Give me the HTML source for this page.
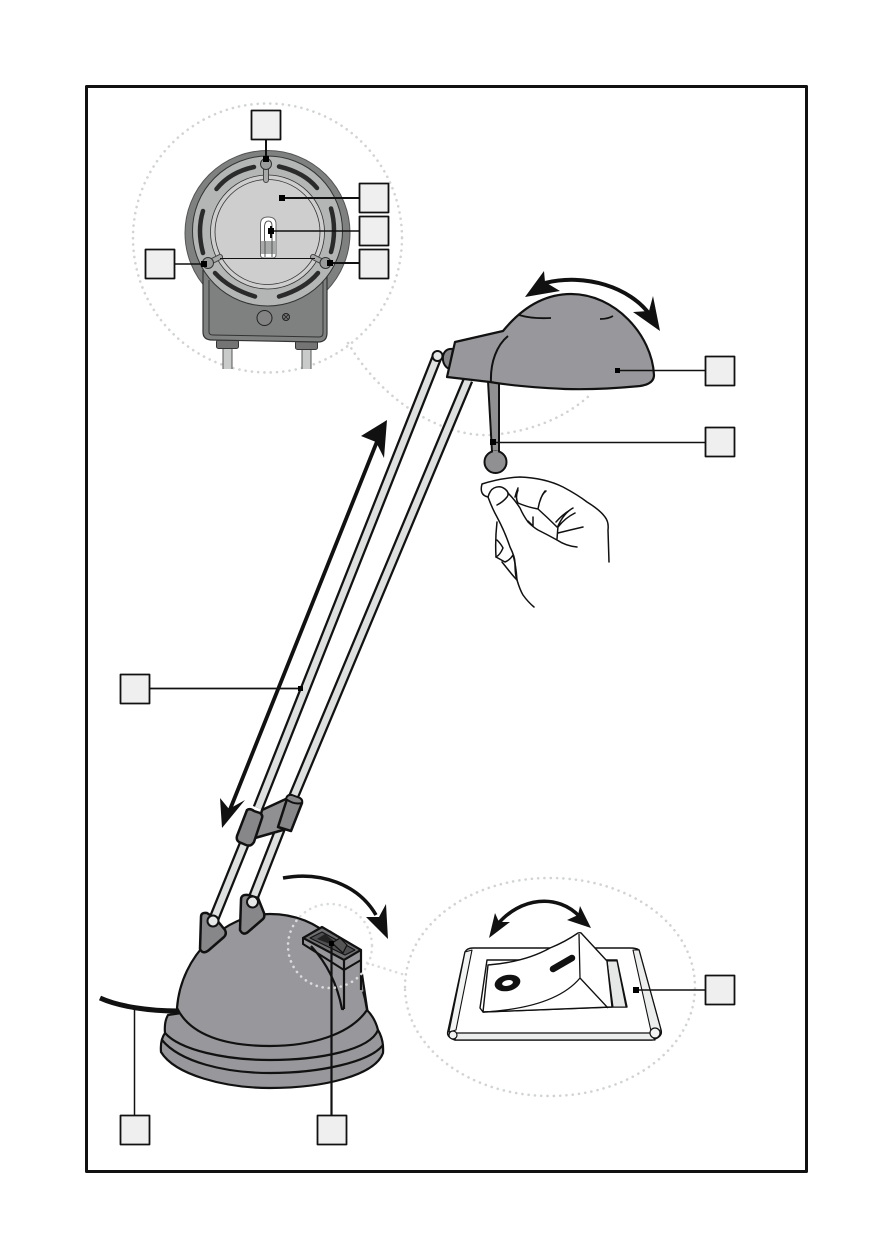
<!DOCTYPE html>
<html><head><meta charset="utf-8"><style>html,body{margin:0;padding:0;background:#fff}svg{display:block}</style></head>
<body>
<svg width="893" height="1259" viewBox="0 0 893 1259" xmlns="http://www.w3.org/2000/svg" fill="none" stroke-linejoin="round">
<rect x="86.500" y="86.500" width="720" height="1085" stroke="#111" stroke-width="3"/>

<!-- dotted magnifier circles -->
<g stroke="#d2d4d4" stroke-width="2.600" stroke-linecap="round" stroke-dasharray="0.1 6.200">
<circle cx="267.500" cy="238" r="134.500"/>
<path d="M348 343C385 405 445 437 490 435C530 432 565 418 590 395"/>
<path d="M405 987C405 925 470 878 550 878C630 878 695 925 695 987C695 1048 630 1096 550 1096C470 1096 405 1048 405 987Z"/>
</g>

<!-- HEAD DETAIL -->
<rect x="222.500" y="345" width="10" height="24" fill="#c9cbca"/>
<rect x="301.500" y="345" width="10" height="24" fill="#c9cbca"/>
<path d="M223 346V369M232 346V369M302 346V369M311 346V369" stroke="#555" stroke-width="1"/>
<rect x="216.500" y="340" width="22" height="8.500" rx="2" fill="#747475" stroke="#333" stroke-width="1"/>
<rect x="295.500" y="341" width="22" height="8.500" rx="2" fill="#747475" stroke="#333" stroke-width="1"/>
<circle cx="267.500" cy="233" r="82.500" fill="#7f8080" stroke="#555" stroke-width="1"/>
<path d="M203 270V332Q203 340 212 340L318 342Q327 342 327 333V270" fill="#7f8080" stroke="#333" stroke-width="1.200"/>
<path d="M209 280V332Q209 335 213 335L319 337Q323 337 323 333V280" stroke="#333" stroke-width="1"/>
<circle cx="264.500" cy="318" r="7.500" fill="#838383" stroke="#222" stroke-width="1"/>
<circle cx="286" cy="317" r="3.500" fill="#777" stroke="#222" stroke-width="1"/>
<path d="M283.500 314.500L288.500 319.500M288.500 314.500L283.500 319.500" stroke="#222" stroke-width="0.800"/>
<circle cx="267.500" cy="231" r="75" fill="#b4b6b6" stroke="#333" stroke-width="1"/>
<circle cx="267.500" cy="232" r="57" fill="#cdcecd" stroke="#333" stroke-width="0.800"/>
<circle cx="267.500" cy="232" r="52.500" fill="#cdcecd" stroke="#333" stroke-width="0.800"/>
<g stroke="#2b2b2b" stroke-width="4.500" stroke-linecap="round">
<path d="M216.500 189C226 177 240 170 254 167"/>
<path d="M279 166.500C294 170 308 177 317 188"/>
<path d="M331 208.500C335 222 335 238 331 252"/>
<path d="M318 273C308 285 294 292 279 296.500"/>
<path d="M255 296.500C240 292 226 285 215 273"/>
<path d="M203 253C199 238 199 224 203 211"/>
</g>
<!-- clips -->
<g stroke-linecap="round">
<path d="M266 167L266 180M208 263L220 257M325 263L313 257" stroke="#444" stroke-width="6"/>
<path d="M266 167L266 180M208 263L220 257M325 263L313 257" stroke="#a6a8a8" stroke-width="4"/>
</g>
<g fill="#9b9d9d" stroke="#333" stroke-width="1">
<circle cx="266" cy="164" r="5.500"/><circle cx="208" cy="263" r="5.500"/><circle cx="325.500" cy="263" r="5.500"/>
</g>
<!-- bulb -->
<path d="M260.500 255V224Q260.500 217 268 217Q276 217 276 224V255Q276 258 272 258H264Q260.500 258 260.500 255Z" fill="#fff" stroke="#666" stroke-width="1"/>
<rect x="261" y="241" width="15" height="13" fill="#a9aaaa"/>
<path d="M264.500 241V226Q265 221 268.500 221Q272 221 272 226V241M265 241V257M272 241V257" stroke="#555" stroke-width="1"/>
<path d="M271 226V238" stroke="#111" stroke-width="2"/>

<!-- ARMS -->
<g stroke-linecap="butt">
<path d="M437 357L258 808" stroke="#111" stroke-width="11"/><path d="M437 357L258 808" stroke="#dde0df" stroke-width="6.500"/>
<path d="M468 380L293 798" stroke="#111" stroke-width="11"/><path d="M468 380L293 798" stroke="#dde0df" stroke-width="6.500"/>
<path d="M245 842L213 921" stroke="#111" stroke-width="11"/><path d="M245 842L213 921" stroke="#dde0df" stroke-width="6.500"/>
<path d="M281 827L252 901" stroke="#111" stroke-width="11"/><path d="M281 827L252 901" stroke="#dde0df" stroke-width="6.500"/>
</g>
<!-- collars -->
<path d="M262 810L288 798L283 830L255 838Z" fill="#909093" stroke="#111" stroke-width="2.500"/>
<path d="M247 810Q250 808 254 811L260 813Q263 815 262 818L254 842Q251 847 246 845L239 842Q236 840 237 836Z" fill="#87878a" stroke="#111" stroke-width="2.500"/>
<path d="M287 799L302 803L291 831L278 827Z" fill="#87878a" stroke="#111" stroke-width="2.500"/>
<path d="M286 799Q287 794 292 795L300 798Q303 800 302 803Q294 805 286 799Z" fill="#87878a" stroke="#111" stroke-width="2"/>

<!-- long arrow -->
<path d="M380 434L229 812" stroke="#111" stroke-width="3.800"/>
<path d="M387 420L384 458L376 442L361 436Z" fill="#111"/>
<path d="M222 828L220 798L229 809L245 800Z" fill="#111"/>

<!-- SHADE -->
<circle cx="437.500" cy="356" r="5" fill="#e6e8e7" stroke="#111" stroke-width="2"/>
<path d="M453 349Q445 348 443 356Q442 365 449 369Z" fill="#87878a" stroke="#111" stroke-width="2"/>
<path d="M488 381L492 452H499L499 382Z" fill="#909093" stroke="#111" stroke-width="2"/>
<circle cx="495.500" cy="462" r="11" fill="#909093" stroke="#111" stroke-width="2"/>
<path d="M493 452H498" stroke="#909093" stroke-width="3"/>
<path d="M447 377L455 342L503 331C525 304 548 294 571 294C615 294 652 335 654 375Q654 384 640 386Q600 390 565 389Q520 387 490 382Z" fill="#98989c" stroke="#111" stroke-width="2.200"/>
<path d="M508 336C497 345 490 362 491 383" stroke="#111" stroke-width="2"/>
<path d="M519 315Q532 319 551 318M600 319Q608 319 613 316" stroke="#111" stroke-width="1.800"/>
<!-- shade arrow -->
<path d="M545 283C585 273 630 287 650 315" stroke="#111" stroke-width="4"/>
<path d="M525 297L544 271L545 282L560 291Z" fill="#111"/>
<path d="M660 331L653 296L649 311L633 312Z" fill="#111"/>

<!-- HAND -->
<g stroke="#111" stroke-width="1.500" stroke-linecap="round">
<path d="M482 484Q479 495 488 497M482 484Q500 478 520 477Q545 478 563 487Q578 495 587 502Q600 510 605 517Q609 522 608 530L609 562"/>
<path d="M488 497Q490 490 494 488Q500 485 505 489Q510 493 507 497Q503 502 497 505"/>
<path d="M488 497Q492 508 497 517Q505 532 510 547Q515 557 515 563Q515 575 517 580Q520 590 523 595Q528 602 534 607"/>
<path d="M497 522Q495 540 496 557L505 562Q510 560 513 555Q516 565 517 580"/>
<path d="M497 540Q501 544 503 548Q500 555 496 557M502 562L510 572Q514 577 517 580"/>
<path d="M508 493Q515 500 520 508Q523 515 528 522Q533 527 538 530Q548 535 557 540Q566 546 577 547"/>
<path d="M518 503Q527 507 538 509Q548 518 557 527M538 509Q540 497 545 491M540 501Q542 494 546 491M518 488Q516 493 515 497M518 503Q515 498 518 490"/>
<path d="M533 517L533 526L528 521"/>
<path d="M557 539L558 526Q564 513 573 508M558 527Q565 518 575 513M558 533Q570 530 583 527M556 522Q562 515 570 510"/>
</g>

<!-- BASE -->
<path d="M100 998C120 1007 150 1011 178 1011" stroke="#111" stroke-width="5"/>
<path d="M168 1015Q164 1022 165 1033Q160 1040 161 1052C175 1075 225 1088 270 1088C325 1088 375 1075 383 1053Q384 1040 378 1030Q375 1018 367 1010L270 1000Z" fill="#98989c" stroke="#111" stroke-width="2.200"/>
<path d="M165 1033C180 1050 225 1060 270 1060C320 1060 370 1050 378 1030" stroke="#111" stroke-width="2.200"/>
<path d="M162 1040C180 1062 225 1073 270 1073C320 1073 370 1062 383 1045" stroke="#111" stroke-width="2.200"/>
<path d="M177 1008C181 955 225 914 270 914C320 914 358 950 367 1010C350 1035 310 1046 270 1046C225 1046 190 1035 177 1008Z" fill="#98989c" stroke="#111" stroke-width="2.200"/>
<path d="M330 930L372 960L365 990L345 1005Z" fill="#98989c" stroke="none"/>
<path d="M361.500 950H374V1000H367L362 973Z" fill="#fff"/>

<!-- pivot mounts -->
<path d="M201 917Q201 912 207 913L216 919L225 930Q227 934 224 937L209 950Q203 955 200 949Z" fill="#87878a" stroke="#111" stroke-width="2.500"/>
<path d="M241 900Q241 894 248 895L258 898L264 913Q265 917 263 919L248 932Q243 936 240 930Z" fill="#87878a" stroke="#111" stroke-width="2.500"/>
<circle cx="213" cy="921" r="5.500" fill="#e6e8e7" stroke="#111" stroke-width="2"/>
<circle cx="252.500" cy="902" r="5.500" fill="#e6e8e7" stroke="#111" stroke-width="2"/>

<!-- switch on base -->
<path d="M303 938L322 927L361 950L344 960Z" fill="#707073" stroke="#111" stroke-width="2.200"/>
<path d="M303 938V944L344 970L361 960V950L344 960Z" fill="#98989c" stroke="#111" stroke-width="2"/>
<path d="M310 938L322 932L355 950L345 955Z" fill="#4f4f52" stroke="#111" stroke-width="1"/>
<path d="M317 939L325 934L335 942L330 944Z" fill="#222"/>
<path d="M332 943L340 938L347 945L343 953Z" fill="#555" stroke="#111" stroke-width="1.200"/>
<path d="M344 960V1009" stroke="#111" stroke-width="2.200"/>
<path d="M311 946Q335 972 342 1009L344 1009" stroke="#111" stroke-width="2.200"/>
<path d="M361 950V990" stroke="#111" stroke-width="2.200"/>
<path d="M362 974L367.500 1011" stroke="#111" stroke-width="2.200"/>
<path d="M283 878C320 871 358 884 376 915" stroke="#111" stroke-width="3.500"/>
<path d="M388 939L386 904L379 917L366 917Z" fill="#111"/>
<g stroke="#dadcdc" stroke-width="2.600" stroke-linecap="round" stroke-dasharray="0.1 6">
<circle cx="330" cy="946" r="42"/>
<path d="M367 963L405 975"/>
</g>

<!-- SWITCH DETAIL -->
<path d="M465 952Q467 948 473 948L630 948Q636 948 639 950L661 1030Q663 1037 652 1040L455 1040Q446 1037 448 1031Z" fill="#fff" stroke="#111" stroke-width="1.500"/>
<path d="M456 1033H650L655 1040H455Z" fill="#eceeed" stroke="#111" stroke-width="1.200"/>
<path d="M465 952L472 950L456 1030L449 1032Z" fill="#f2f3f3" stroke="#111" stroke-width="1.100"/>
<path d="M633 950L639 950L661 1030L651 1031Z" fill="#eceeed" stroke="#111" stroke-width="1.100"/>
<circle cx="453" cy="1035" r="4" fill="#f2f3f3" stroke="#111" stroke-width="1.200"/>
<circle cx="655" cy="1033" r="5" fill="#f2f3f3" stroke="#111" stroke-width="1.200"/>
<path d="M487 960H617L627 1007H610L483 1012L480 1008Z" fill="#fff" stroke="#111" stroke-width="1.400"/>
<path d="M607 961H617L626 1007H613Z" fill="#e6e8e7" stroke="#111" stroke-width="1.100"/>
<path d="M488 965Q525 962 550 948Q565 942 578 933Q581 932 582 934L607 961L612 1007L483 1012Z" fill="#fff" stroke="#111" stroke-width="1.400"/>
<path d="M579 934L580 978M483 1012Q555 1008 580 978L608 1008" stroke="#111" stroke-width="1.300"/>
<ellipse cx="507.500" cy="983" rx="13" ry="8" transform="rotate(-12 507.500 983)" fill="#111"/>
<ellipse cx="507.500" cy="983" rx="5.500" ry="2.800" transform="rotate(-12 507.500 983)" fill="#fff"/>
<path d="M553 969L572 958" stroke="#111" stroke-width="6.500" stroke-linecap="round"/>
<path d="M497 925C520 897 558 893 580 917" stroke="#111" stroke-width="3.500"/>
<path d="M489 938L495 913L499 922L510 922Z" fill="#111"/>
<path d="M591 928L580 906L578 915L567 920Z" fill="#111"/>

<!-- leaders -->
<g stroke="#111" stroke-width="1.500">
<path d="M266 140V160" stroke-width="2"/>
<path d="M282 198H359" stroke-width="2"/>
<path d="M271 231H359"/>
<path d="M175 264H205"/>
<path d="M220 258.500H315" stroke-width="1"/>
<path d="M330 263H359" stroke-width="2"/>
<path d="M618 370.500H705"/>
<path d="M493 442.500H705"/>
<path d="M150 688.500H301" stroke-width="1.700"/>
<path d="M636 990H705"/>
<path d="M134.500 1008V1115"/>
<path d="M331.500 944V1115" stroke-width="2.200"/>
</g>
<g fill="#000">
<rect x="263" y="156" width="6" height="6"/>
<rect x="279" y="195" width="6" height="6"/>
<rect x="268" y="228" width="6" height="6"/>
<rect x="201" y="261" width="6" height="6"/>
<rect x="327" y="260" width="6" height="6"/>
<rect x="615" y="368" width="5" height="5"/>
<rect x="490" y="439" width="6" height="6"/>
<rect x="298" y="686" width="5" height="5"/>
<rect x="633" y="987" width="6" height="6"/>
<rect x="329" y="941" width="5" height="5"/>
</g>

<!-- label boxes -->
<g fill="#eeefee" stroke="#111" stroke-width="1.800">
<rect x="251.500" y="110.500" width="29" height="29"/>
<rect x="359.500" y="183.500" width="29" height="29"/>
<rect x="359.500" y="216.500" width="29" height="29"/>
<rect x="359.500" y="249.500" width="29" height="29"/>
<rect x="145.500" y="249.500" width="29" height="29"/>
<rect x="705.500" y="356.500" width="29" height="29"/>
<rect x="705.500" y="427.500" width="29" height="29"/>
<rect x="120.500" y="674.500" width="29" height="29"/>
<rect x="705.500" y="975.500" width="29" height="29"/>
<rect x="120.500" y="1115.500" width="29" height="29"/>
<rect x="317.500" y="1115.500" width="29" height="29"/>
</g>
</svg>
</body></html>
